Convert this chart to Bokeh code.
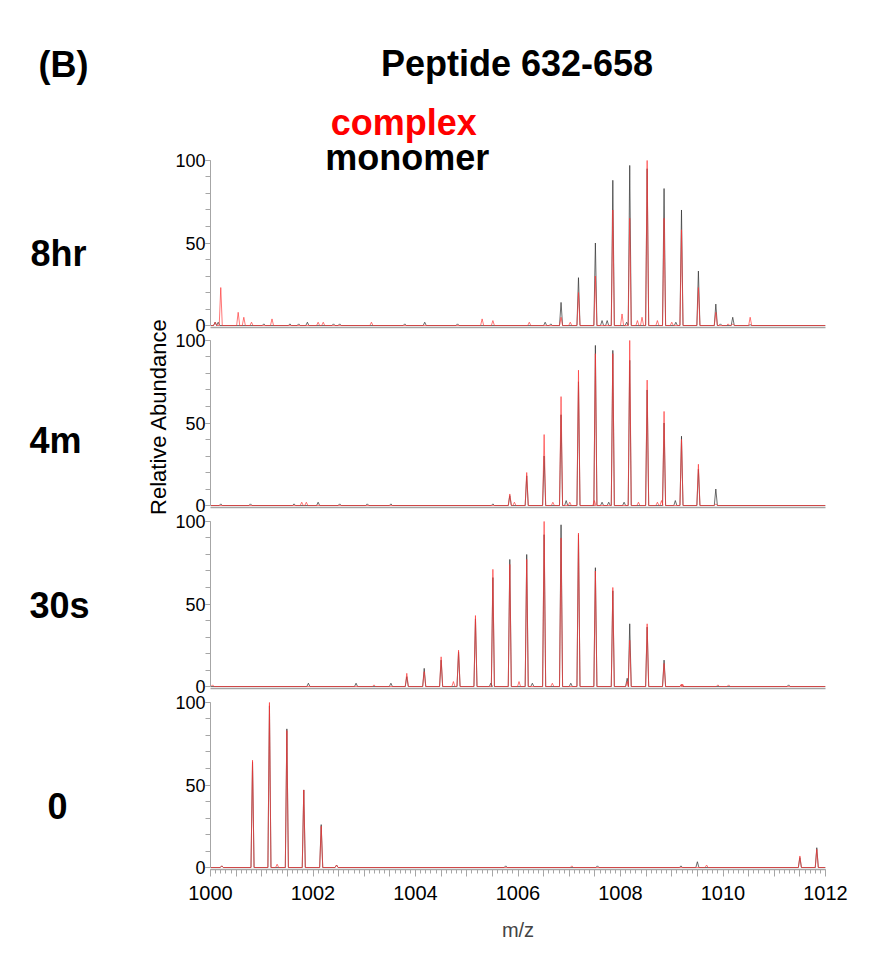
from bokeh.plotting import figure
from bokeh.models import Range1d, FixedTicker
from bokeh.layouts import column, row
from bokeh.core.properties import value
from bokeh.embed import file_html
from bokeh.resources import INLINE

# ---------------- data ----------------
# isotope peak positions (m/z) of the 3+ ion
isotope_mz = [1000.82, 1001.15, 1001.49, 1001.82, 1002.16, 1002.49, 1002.83, 1003.16,
              1003.50, 1003.83, 1004.17, 1004.50, 1004.84, 1005.17, 1005.51, 1005.84,
              1006.17, 1006.51, 1006.84, 1007.18, 1007.51, 1007.85, 1008.18, 1008.52,
              1008.85, 1009.19, 1009.52, 1009.86, 1010.19, 1010.53]

# relative abundance of each isotope peak (complex = red, monomer = black)
complex_8hr = [0, 0, 0, 0, 0, 0, 0, 0, 0, 0, 0, 0, 0, 0, 0, 0,
               0, 0, 5, 20, 30, 70, 65, 100, 65, 58, 23, 8, 1, 5]
monomer_8hr = [0, 0, 0, 0, 0, 0, 0, 0, 0, 0, 0, 0, 0, 0, 0, 0,
               0, 0, 14, 29, 50, 88, 97, 95, 83, 70, 33, 13, 5, 0.5]
complex_4m = [0, 0, 0, 0, 0, 0, 0, 0, 0, 0, 0, 0, 0, 0, 0, 7,
              20, 43, 66, 82, 92, 92, 100, 76, 57, 40, 25, 1, 0, 0]
monomer_4m = [0, 0, 0, 0, 0, 0, 0, 0, 0, 0, 0, 0, 0, 0, 0, 6,
              18, 30, 55, 75, 97, 94, 88, 70, 50, 42, 22, 10, 0, 0]
complex_30s = [0, 0, 0, 0, 0, 0, 0, 0, 0, 8, 9, 18, 22, 43, 71, 74,
               77, 100, 90, 93, 70, 60, 28, 38, 14, 1.5, 0, 0, 0, 0]
monomer_30s = [0, 0, 0, 0, 0, 0, 0, 0, 0, 6, 11, 16, 21, 41, 66, 77,
               80, 92, 98, 92, 72, 58, 38, 36, 16, 1, 0, 0, 0, 0]
complex_0 = [65, 100, 83, 47, 25, 0, 0, 0, 0, 0, 0, 0, 0, 0, 0, 0,
             0, 0, 0, 0, 0, 0, 0, 0, 0, 0, 0, 0, 0, 0]
monomer_0 = [64, 98, 84, 47, 26, 0, 0, 0, 0, 0, 0, 0, 0, 0, 0, 0,
             0, 0, 0, 0, 0, 0, 0, 0, 0, 0, 0, 0, 0, 0]

# small background peaks (m/z, abundance)
noise_8hr_complex_mz = [1000.09, 1000.20, 1000.54, 1000.65, 1000.80, 1001.20, 1002.10, 1002.20,
                        1003.14, 1005.30, 1005.51, 1006.22, 1007.02, 1008.03, 1008.33, 1008.42,
                        1008.72, 1009.00, 1010.10]
noise_8hr_complex_y = [2, 23, 8, 5, 2, 4, 2, 2, 2, 4, 3, 2, 2, 7, 3, 5, 3, 2, 1]
noise_8hr_monomer_mz = [1000.09, 1000.15, 1001.04, 1001.55, 1001.72, 1001.89, 1002.40, 1002.52,
                        1003.79, 1004.18, 1004.82, 1006.53, 1006.64, 1007.64, 1007.74, 1008.12,
                        1009.08, 1009.95]
noise_8hr_monomer_y = [2, 2, 1, 1, 1, 2, 1, 1, 1, 2, 1, 2, 1, 3, 3, 2, 2, 1]
noise_4m_complex_mz = [1001.78, 1001.87, 1005.93, 1006.68, 1007.01, 1007.49, 1008.35, 1008.72, 1008.80]
noise_4m_complex_y = [2, 2, 2, 2, 2, 3, 2, 2, 3]
noise_4m_monomer_mz = [1000.20, 1000.78, 1001.63, 1002.10, 1002.52, 1003.06, 1003.52, 1005.51,
                       1006.94, 1007.64, 1007.77, 1008.07, 1009.07]
noise_4m_monomer_y = [1, 1, 1, 2, 1, 1, 1, 1, 3, 2, 2, 2, 3]
noise_30s_complex_mz = [1000.04, 1003.19, 1004.74, 1006.02, 1006.67, 1008.13, 1009.21, 1009.90,
                        1010.11]
noise_30s_complex_y = [1, 1, 3, 3, 2, 3, 1.5, 1, 1]
noise_30s_monomer_mz = [1001.91, 1002.84, 1003.52, 1005.47, 1006.28, 1007.03, 1008.13, 1011.28]
noise_30s_monomer_y = [2, 2, 2, 2, 2, 2, 5, 1]
noise_0_complex_mz = [1000.22, 1001.30, 1002.46, 1007.05, 1009.68, 1011.50, 1011.83]
noise_0_complex_y = [1, 2, 1.5, 1, 1.5, 7, 11]
noise_0_monomer_mz = [1000.22, 1002.46, 1005.76, 1007.55, 1009.18, 1009.50, 1011.50, 1011.83]
noise_0_monomer_y = [1, 1.5, 1, 1, 1, 3.5, 6, 12]

panel_names = ["8hr", "4m", "30s", "0"]
x_tick_values = [1000, 1002, 1004, 1006, 1008, 1010, 1012]
x_tick_labels = ["1000", "1002", "1004", "1006", "1008", "1010", "1012"]
y_tick_values = [0, 50, 100]
y_tick_labels = ["0", "50", "100"]

# ---------------- styling / layout ----------------
X_START, X_END = 1000, 1012
RED = "#ff3535"
DARK = "#333333"
AXIS_GRAY = "#a6a6a6"
SANS = "Liberation Sans"
PEAK_HALF_WIDTH = 0.03

LEFT_W = 172          # width of the side figure with the time labels
PANEL_LEFT = 35       # room for the y tick labels
FRAME_W = 618
RIGHT = 33
FRAME_H = 169
PX_PER_UNIT = FRAME_H / 102.4


def profile(mz_a, y_a, mz_b, y_b):
    pts = sorted(list(zip(mz_a, y_a)) + list(zip(mz_b, y_b)))
    xs, ys = [X_START], [0]
    for m, v in pts:
        if v <= 0:
            continue
        xs += [m - PEAK_HALF_WIDTH, m, m + PEAK_HALF_WIDTH]
        ys += [0, v, 0]
    xs.append(X_END)
    ys.append(0)
    return xs, ys


panel_data = [
    (complex_8hr, monomer_8hr, noise_8hr_complex_mz, noise_8hr_complex_y, noise_8hr_monomer_mz, noise_8hr_monomer_y),
    (complex_4m, monomer_4m, noise_4m_complex_mz, noise_4m_complex_y, noise_4m_monomer_mz, noise_4m_monomer_y),
    (complex_30s, monomer_30s, noise_30s_complex_mz, noise_30s_complex_y, noise_30s_monomer_mz, noise_30s_monomer_y),
    (complex_0, monomer_0, noise_0_complex_mz, noise_0_complex_y, noise_0_monomer_mz, noise_0_monomer_y),
]

# (border top, frame height, border bottom) per panel; the first panel's frame
# also hosts the title lines above its 0-100 axis
panel_boxes = [(0, 327, 5), (6, FRAME_H, 6), (6, FRAME_H, 6), (6, FRAME_H, 80)]

x_range = Range1d(X_START, X_END)
figs = []
for i, (cpx, mono, ncm, ncy, nmm, nmy) in enumerate(panel_data):
    btop, fh, bbot = panel_boxes[i]
    y_top = -1.2 + fh / PX_PER_UNIT
    p = figure(width=PANEL_LEFT + FRAME_W + RIGHT, height=btop + fh + bbot,
               x_range=x_range, y_range=Range1d(-1.2, y_top),
               output_backend="svg", toolbar_location=None,
               min_border_left=PANEL_LEFT, min_border_right=RIGHT,
               min_border_top=btop, min_border_bottom=bbot)
    p.outline_line_color = None
    p.xgrid.visible = False
    p.ygrid.visible = False
    p.background_fill_color = "white"
    p.border_fill_color = "white"

    mx, my = profile(isotope_mz, mono, nmm, nmy)
    cx, cy = profile(isotope_mz, cpx, ncm, ncy)
    p.line(mx, my, line_color=DARK, line_width=0.8, line_alpha=0.9)
    p.line(cx, cy, line_color=RED, line_width=0.8, line_alpha=0.85)

    ya = p.yaxis[0]
    ya.ticker = FixedTicker(ticks=y_tick_values, minor_ticks=list(range(0, 101, 10)))
    ya.major_label_overrides = dict(zip(y_tick_values, y_tick_labels))
    ya.bounds = (0, 100)
    ya.axis_line_color = AXIS_GRAY
    ya.major_tick_line_color = AXIS_GRAY
    ya.minor_tick_line_color = AXIS_GRAY
    ya.major_tick_in = 0
    ya.minor_tick_in = 0
    ya.major_tick_out = 5
    ya.minor_tick_out = 5
    ya.major_label_standoff = 0
    ya.major_label_text_font = SANS
    ya.major_label_text_font_size = "18px"
    ya.major_label_text_color = "black"

    xa = p.xaxis[0]
    xa.axis_line_color = AXIS_GRAY
    xa.axis_line_width = 1.5
    if i < 3:
        xa.ticker = FixedTicker(ticks=[])
        xa.major_tick_out = 0
        xa.minor_tick_out = 0
        xa.major_tick_in = 0
        xa.minor_tick_in = 0
        xa.major_label_text_font_size = "0px"
        xa.major_label_standoff = 0
    else:
        half_steps = [X_START + 0.5 * k for k in range(25)]
        tenth_steps = [round(X_START + 0.1 * k, 1) for k in range(121)]
        xa.ticker = FixedTicker(ticks=half_steps, minor_ticks=tenth_steps)
        overrides = {t: "" for t in half_steps}
        overrides.update(dict(zip(x_tick_values, x_tick_labels)))
        xa.major_label_overrides = overrides
        xa.major_tick_line_color = AXIS_GRAY
        xa.minor_tick_line_color = AXIS_GRAY
        xa.major_tick_in = 0
        xa.minor_tick_in = 0
        xa.major_tick_out = 7
        xa.minor_tick_out = 4
        xa.major_label_standoff = 9
        xa.major_label_text_font = SANS
        xa.major_label_text_font_size = "20px"
        xa.major_label_text_color = "black"
        xa.axis_label = "m/z"
        xa.axis_label_text_font = SANS
        xa.axis_label_text_font_size = "20px"
        xa.axis_label_text_font_style = "normal"
        xa.axis_label_standoff = 16
    figs.append(p)

# title lines, drawn in the first panel's data space above its axis
top = figs[0]
top.text(x=[1005.98], y=[158.8], text=["Peptide 632-658"], text_align="center",
         text_baseline="alphabetic", text_font=value(SANS), text_font_style="bold",
         text_font_size="36px", text_color="black")
top.text(x=[1003.77], y=[123.0], text=["complex"], text_align="center",
         text_baseline="alphabetic", text_font=value(SANS), text_font_style="bold",
         text_font_size="36px", text_color="#ff0000")
top.text(x=[1003.84], y=[101.8], text=["monomer"], text_align="center",
         text_baseline="alphabetic", text_font=value(SANS), text_font_style="bold",
         text_font_size="36px", text_color="black")

total_h = sum(b + f + c for b, f, c in panel_boxes)

# side figure: panel letter, time points and the shared y label (pixel-like space)
side = figure(width=LEFT_W, height=total_h, x_range=Range1d(0, LEFT_W),
              y_range=Range1d(total_h, 0), output_backend="svg", toolbar_location=None,
              min_border=0)
side.axis.visible = False
side.grid.visible = False
side.outline_line_color = None
side.text(x=[63], y=[64], text=["(B)"], text_align="center", text_baseline="alphabetic",
          text_font=value(SANS), text_font_style="bold", text_font_size="36px",
          text_color="black")
side.text(x=[58, 55, 59, 57], y=[253, 440, 605, 805], text=panel_names, text_align="center",
          text_baseline="middle", text_font=value(SANS), text_font_style="bold",
          text_font_size="36px", text_color="black")
side.text(x=[158], y=[416], text=["Relative Abundance"], angle=1.5708, text_align="center",
          text_baseline="middle", text_font=value(SANS), text_font_size="22px",
          text_color="black")

layout = row(side, column(*figs, spacing=0), spacing=0)
open("out.html", "w").write(file_html(layout, INLINE))
